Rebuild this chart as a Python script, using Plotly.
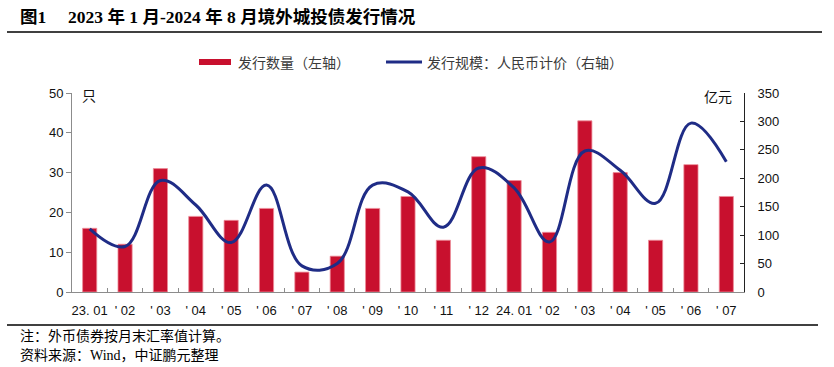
import plotly.graph_objects as go

categories = ["23. 01", "'02", "'03", "'04", "'05", "'06", "'07", "'08", "'09", "'10",
              "'11", "'12", "24. 01", "'02 ", "'03 ", "'04 ", "'05 ", "'06 ", "'07 "]
tick_labels = ["23. 01", "' 02", "' 03", "' 04", "' 05", "' 06", "' 07", "' 08", "' 09", "' 10",
               "' 11", "' 12", "24. 01", "' 02", "' 03", "' 04", "' 05", "' 06", "' 07"]
issue_count = [16, 12, 31, 19, 18, 21, 5, 9, 21, 24, 13, 34, 28, 15, 43, 30, 13, 32, 24]
issue_scale = [111, 80, 196, 153, 87, 188, 46, 50, 188, 176, 114, 218, 183, 88, 248, 214, 156, 297, 229]

W, H = 834, 367
L, R, T, B = 72, 744, 93, 292


def px(x):
    return (x - L) / (R - L)


def py(y):
    return (B - y) / (B - T)


CJK = "Noto Sans CJK SC"
SERIF = "Liberation Serif, Noto Sans CJK SC"
SANS = "Liberation Sans, Arial, Noto Sans CJK SC"

fig = go.Figure()
fig.add_trace(go.Bar(
    x=categories, y=issue_count, name="发行数量（左轴）",
    marker=dict(color="#C8102E", line=dict(color="#EE8C98", width=0.8)),
    width=0.4, yaxis="y", showlegend=False,
))
fig.add_trace(go.Scatter(
    x=categories, y=issue_scale, name="发行规模：人民币计价（右轴）",
    mode="lines", line=dict(color="#1F2C86", width=3, shape="spline", smoothing=1.1),
    yaxis="y2", showlegend=False,
))

fig.update_layout(
    width=W, height=H,
    margin=dict(l=L, r=W - R, t=T, b=H - B, autoexpand=False),
    paper_bgcolor="white", plot_bgcolor="white",
    showlegend=False,
    bargap=0.6,
    xaxis=dict(
        type="category", tickmode="array", tickvals=categories, ticktext=tick_labels,
        showline=True, linecolor="#8c8c8c", linewidth=1,
        ticks="inside", tickson="boundaries", ticklen=4, tickcolor="#8c8c8c",
        tickfont=dict(family=SANS, size=13, color="#111"), tickangle=0,
        showgrid=False, ticklabelstandoff=6, automargin=False,
    ),
    yaxis=dict(
        range=[0, 50], dtick=10, showline=True, linecolor="#8c8c8c", linewidth=1,
        ticks="outside", ticklen=5, tickcolor="#8c8c8c",
        tickfont=dict(family=SANS, size=13, color="#111"),
        showgrid=False, zeroline=False, automargin=False,
    ),
    yaxis2=dict(
        range=[0, 350], dtick=50, overlaying="y", side="right",
        showline=True, linecolor="#222", linewidth=1,
        ticks="inside", ticklen=4, tickcolor="#222",
        tickfont=dict(family=SANS, size=13, color="#111"),
        showgrid=False, zeroline=False, ticklabelstandoff=10, automargin=False,
    ),
)

annotations = [
    dict(x=px(18), y=py(17), text="<b>图1\u3000 2023 年 1 月-2024 年 8 月境外城投债发行情况</b>",
         xanchor="left", yanchor="middle", font=dict(family=SERIF, size=17.5, color="#000")),
    dict(x=px(236), y=py(62), text="发行数量（左轴）", xanchor="left", yanchor="middle",
         font=dict(family=CJK, size=14, color="#3a3a3a")),
    dict(x=px(425), y=py(62), text="发行规模：人民币计价（右轴）", xanchor="left", yanchor="middle",
         font=dict(family=CJK, size=14, color="#3a3a3a")),
    dict(x=px(89), y=py(95), text="只", xanchor="center", yanchor="middle",
         font=dict(family=CJK, size=14, color="#111")),
    dict(x=px(734), y=py(96), text="亿元", xanchor="right", yanchor="middle",
         font=dict(family=CJK, size=14, color="#111")),
    dict(x=px(18), y=py(336), text="注：外币债券按月末汇率值计算。", xanchor="left", yanchor="middle",
         font=dict(family=SERIF, size=14, color="#000")),
    dict(x=px(18), y=py(355), text="资料来源：Wind，中证鹏元整理", xanchor="left", yanchor="middle",
         font=dict(family=SERIF, size=14, color="#000")),
]
for a in annotations:
    a.update(xref="paper", yref="paper", showarrow=False)
fig.update_layout(annotations=annotations)

shapes = [
    dict(type="line", x0=px(7), x1=px(822), y0=py(32), y1=py(32), line=dict(color="#000", width=1.5)),
    dict(type="line", x0=px(7), x1=px(818), y0=py(325), y1=py(325), line=dict(color="#000", width=1.5)),
    dict(type="rect", x0=px(199), x1=px(231), y0=py(59), y1=py(65), fillcolor="#C8102E",
         line=dict(width=0)),
    dict(type="line", x0=px(386), x1=px(422), y0=py(62), y1=py(62), line=dict(color="#1F2C86", width=3)),
]
for s in shapes:
    s.update(xref="paper", yref="paper")
fig.update_layout(shapes=shapes)

fig.write_html("out.html", config={"displayModeBar": False},
               post_script="document.body.style.margin='0';")
